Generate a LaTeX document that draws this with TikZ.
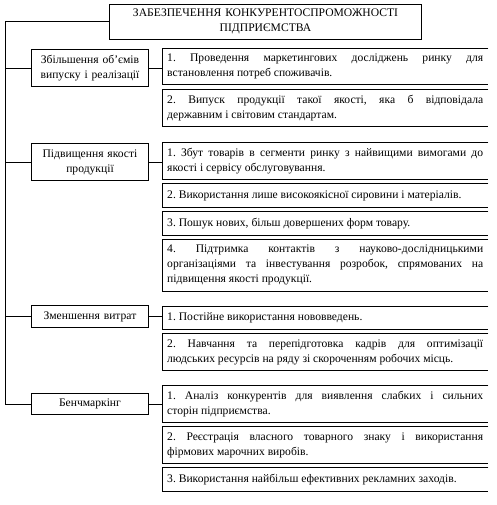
\documentclass[tikz,border=0pt]{standalone}
\usepackage{fontspec}
\setmainfont{Liberation Serif}
\usepackage{tikz}
\usetikzlibrary{positioning}

\begin{document}
\begin{tikzpicture}[
  x=1pt, y=-1pt,
  node distance=4.5pt,
  every node/.style={font=\fontsize{11.6}{15}\selectfont\frenchspacing},
  titlebox/.style={draw, line width=0.9pt, text width=305pt, align=center, minimum height=35pt, inner ysep=4pt},
  groupbox/.style={draw, line width=0.9pt, text width=110pt, align=center, minimum width=117pt, minimum height=21pt, inner xsep=3pt, inner ysep=5.5pt},
  itembox/.style={text width=316pt, align=justify, minimum height=23pt, inner xsep=5pt, inner ysep=5.5pt, anchor=north west},
  link/.style={line width=0.9pt},
]
  \useasboundingbox (0,0) rectangle (496,505);

  % Title
  \node[titlebox] (title) at (265.5,21.5) {ЗАБЕЗПЕЧЕННЯ КОНКУРЕНТОСПРОМОЖНОСТІ\\ПІДПРИЄМСТВА};

  % Groups
  \node[groupbox] (vol) at (90,68) {Збільшення об’ємів\\випуску і реалізації};
  \node[groupbox] (qual) at (90,162) {Підвищення якості\\продукції};
  \node[groupbox] (cost) at (90,316.5) {Зменшення витрат};
  \node[groupbox] (bench) at (90,404) {Бенчмаркінг};

  % Measures
  \node[itembox] (vol1) at (162,48) {1. Проведення маркетингових досліджень ринку для\linebreak встановлення потреб споживачів.};
  \node[itembox, below=of vol1] (vol2) {2. Випуск продукції такої якості, яка б відповідала\linebreak державним і світовим стандартам.};

  \node[itembox] (qual1) at (162,142) {1. Збут товарів в сегменти ринку з найвищими вимогами до\linebreak якості і сервісу обслуговування.};
  \node[itembox, below=of qual1] (qual2) {2. Використання лише високоякісної сировини і матеріалів.};
  \node[itembox, below=of qual2] (qual3) {3. Пошук нових, більш довершених форм товару.};
  \node[itembox, below=of qual3] (qual4) {4. Підтримка контактів з науково-дослідницькими\linebreak організаціями та інвестування розробок, спрямованих на\linebreak підвищення якості продукції.};

  \node[itembox] (cost1) at (162,306) {1. Постійне використання нововведень.};
  \node[itembox, below=of cost1] (cost2) {2. Навчання та перепідготовка кадрів для оптимізації\linebreak людських ресурсів на ряду зі скороченням робочих місць.};

  \node[itembox] (bench1) at (162,385) {1. Аналіз конкурентів для виявлення слабких і сильних\linebreak сторін підприємства.};
  \node[itembox, below=of bench1] (bench2) {2. Реєстрація власного товарного знаку і використання\linebreak фірмових марочних виробів.};
  \node[itembox, below=of bench2] (bench3) {3. Використання найбільш ефективних рекламних заходів.};

  % Open boxes (no right side)
  \foreach \n in {vol1,vol2,qual1,qual2,qual3,qual4,cost1,cost2,bench1,bench2,bench3}
    \draw[link] (\n.north east) -- (\n.north west) -- (\n.south west) -- (\n.south east);

  % Spine
  \coordinate (spine) at (5,21.5);
  \draw[link] (title.west) -- (spine) |- (bench.west);
  \draw[link] (vol.west -| spine) -- (vol.west);
  \draw[link] (qual.west -| spine) -- (qual.west);
  \draw[link] (cost.west -| spine) -- (cost.west);

  % Group to measures
  \draw[link] (vol.east) -- (vol.east -| vol1.west);
  \draw[link] (qual.east) -- (qual.east -| qual1.west);
  \draw[link] (cost.east) -- (cost.east -| cost1.west);
  \draw[link] (bench.east) -- (bench.east -| bench1.west);
\end{tikzpicture}
\end{document}
